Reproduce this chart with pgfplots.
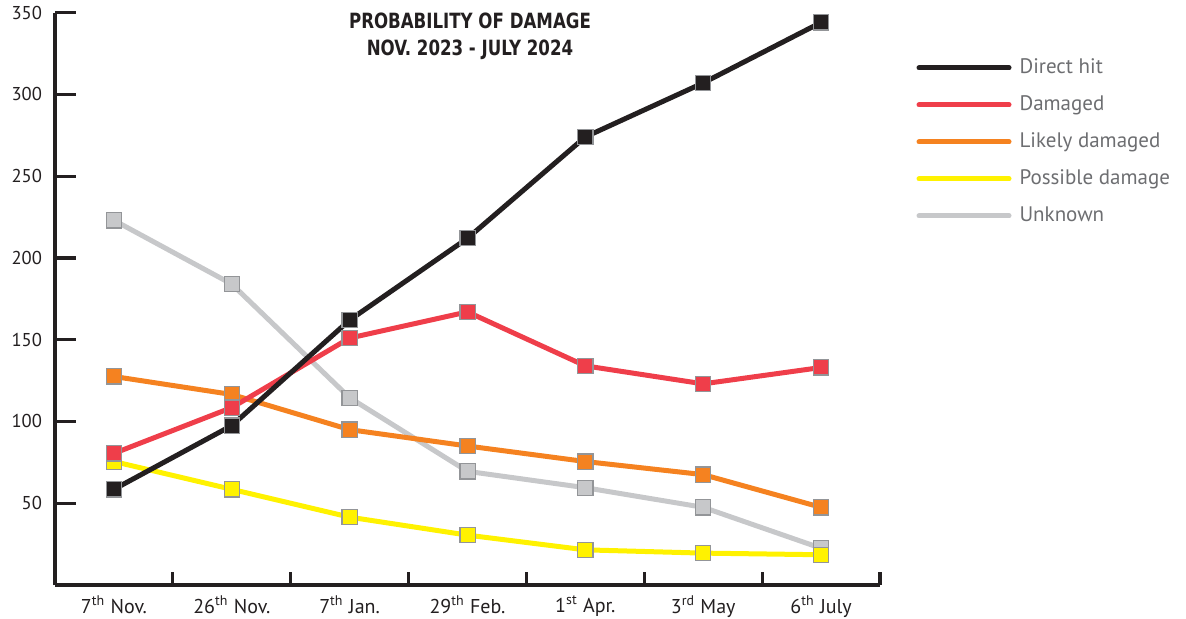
\documentclass[border=0pt]{standalone}
\usepackage{fontspec}
\setmainfont{PT Sans}
\newfontfamily\titlefont[FakeStretch=0.88]{DejaVu Sans Condensed}
\usepackage{pgfplots}
\pgfplotsset{compat=1.18}
\definecolor{cblack}{HTML}{231F20}
\definecolor{cred}{HTML}{EF3E4A}
\definecolor{corange}{HTML}{F58220}
\definecolor{cyellow}{HTML}{FFF200}
\definecolor{cgray}{HTML}{C7C8CA}
\definecolor{cborder}{HTML}{939598}
\definecolor{ctext}{HTML}{231F20}
\definecolor{clegtext}{HTML}{6D6E71}
\begin{document}
\begin{tikzpicture}[x=1pt,y=1pt]
\path[use as bounding box] (0,0) rectangle (593,309);
\begin{axis}[
  at={(27.5pt,16.5pt)}, anchor=south west,
  scale only axis, width=412.5pt, height=286.2pt,
  xmin=-0.5, xmax=6.5, ymin=0, ymax=350,
  axis x line*=bottom, axis y line*=left,
  axis line style={line width=1.6pt, color=cblack},
  tick align=inside,
  xtick={0,...,6},
  xticklabels={7\textsuperscript{th} Nov., 26\textsuperscript{th} Nov., 7\textsuperscript{th} Jan., 29\textsuperscript{th} Feb., 1\textsuperscript{st} Apr., 3\textsuperscript{rd} May, 6\textsuperscript{th} July},
  minor xtick={-0.5,0.5,...,6.5},
  ytick={50,100,...,350},
  major tick length=10.5pt, minor tick length=6.5pt,
  every tick/.style={line width=1.6pt, color=cblack},
  every major x tick/.append style={draw=none},
  /pgf/number format/assume math mode=true,
  yticklabel style={font=\fontsize{9.3}{11}\selectfont, color=ctext, xshift=-3pt},
  xticklabel style={font=\fontsize{10}{12}\selectfont, color=ctext, yshift=-2pt},
  every axis plot/.append style={line width=2.5pt, mark=square*, mark size=3.8pt},
  reverse legend,
  legend image code/.code={\draw[#1, mark=none, line cap=round] (0pt,0pt) -- (45pt,0pt);\path (49pt,0pt);},
  legend cell align=left,
  legend style={draw=none, fill=none, at={(axis description cs:1.0365,0.9285)}, anchor=north west,
    font=\fontsize{10.5}{12}\selectfont, text=clegtext, row sep=8.5pt,
    nodes={inner sep=0pt, text height=7.6pt, text depth=2.4pt}},
  clip=false,
]
\addplot[color=cgray, mark options={fill=cgray, draw=cborder, line width=0.6pt}] coordinates {(0,223) (1,184) (2,114.5) (3,69.5) (4,59.5) (5,47.5) (6,22.5)};
\addlegendentry{Unknown}
\addplot[color=cyellow, mark options={fill=cyellow, draw=cborder, line width=0.6pt}] coordinates {(0,75.5) (1,58.5) (2,41.5) (3,30.5) (4,21.5) (5,19.5) (6,18.5)};
\addlegendentry{Possible damage}
\addplot[color=corange, mark options={fill=corange, draw=cborder, line width=0.6pt}] coordinates {(0,127.5) (1,116.5) (2,95) (3,85) (4,75.5) (5,67.5) (6,47.5)};
\addlegendentry{Likely damaged}
\addplot[color=cred, mark options={fill=cred, draw=cborder, line width=0.6pt}] coordinates {(0,80.5) (1,108.5) (2,151) (3,167) (4,134) (5,123) (6,133)};
\addlegendentry{Damaged}
\addplot[color=cblack, mark options={fill=cblack, draw=cborder, line width=0.6pt}] coordinates {(0,58.5) (1,97.5) (2,162) (3,212) (4,274) (5,307) (6,344)};
\addlegendentry{Direct hit}
\node[anchor=north, align=center, inner sep=0pt, font=\titlefont\bfseries\fontsize{10.5}{13.5}\selectfont, text=ctext]
  at (axis description cs:0.503,1.0) {PROBABILITY OF DAMAGE\\NOV. 2023 - JULY 2024};
\end{axis}
\end{tikzpicture}
\end{document}
